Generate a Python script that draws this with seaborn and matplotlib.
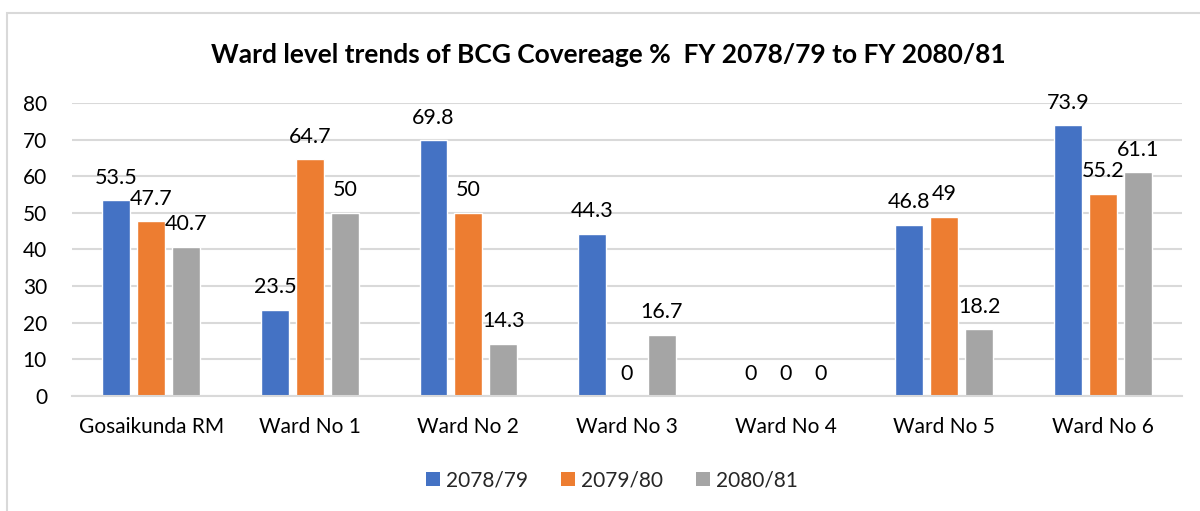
import matplotlib
matplotlib.use("Agg")
import matplotlib.pyplot as plt
import seaborn as sns
import pandas as pd
from matplotlib.patches import Rectangle, Patch

categories = ["Gosaikunda RM", "Ward No 1", "Ward No 2", "Ward No 3", "Ward No 4", "Ward No 5", "Ward No 6"]
fy_2078_79 = [53.5, 23.5, 69.8, 44.3, 0, 46.8, 73.9]
fy_2079_80 = [47.7, 64.7, 50, 0, 0, 49, 55.2]
fy_2080_81 = [40.7, 50, 14.3, 16.7, 0, 18.2, 61.1]
series_names = ["2078/79", "2079/80", "2080/81"]
colors = ["#4472C4", "#ED7D31", "#A5A5A5"]
yticks = [0, 10, 20, 30, 40, 50, 60, 70, 80]

rows = []
for name, vals in zip(series_names, [fy_2078_79, fy_2079_80, fy_2080_81]):
    for c, v in zip(categories, vals):
        rows.append({"Category": c, "Year": name, "Value": v})
df = pd.DataFrame(rows)

sns.set_theme(style="white")
plt.rcParams["font.family"] = ["Lato", "DejaVu Sans"]

fig = plt.figure(figsize=(12, 5.11), dpi=100)
ax = fig.add_axes([0.06, 0.225, 0.925, 0.5735])

sns.barplot(data=df, x="Category", y="Value", hue="Year", palette=colors,
            width=0.66, gap=0.2, ax=ax, legend=False, saturation=1)

ax.set_ylim(0, 80)
ax.set_yticks(yticks)
ax.set_xlim(-0.5, len(categories) - 0.5)
ax.grid(axis="y", color="#D9D9D9", linewidth=1.5)
ax.set_axisbelow(True)
for s in ["top", "right", "left"]:
    ax.spines[s].set_visible(False)
ax.spines["bottom"].set_color("#D9D9D9")
ax.spines["bottom"].set_linewidth(1.5)
ax.tick_params(axis="both", length=0, labelsize=15, colors="#000000")
ax.tick_params(axis="y", pad=18)
ax.tick_params(axis="x", pad=15)
ax.set_xlabel("")
ax.set_ylabel("")

for cont, vals in zip(ax.containers, [fy_2078_79, fy_2079_80, fy_2080_81]):
    ax.bar_label(cont, labels=[f"{v:g}" for v in vals], padding=9, fontsize=15.5, color="#000000")

fig.text(0.507, 0.893, "Ward level trends of BCG Covereage %  FY 2078/79 to FY 2080/81",
         ha="center", va="center", fontsize=19, fontweight="bold", color="#000000")

handles = [Patch(facecolor=c, edgecolor="none", label=n) for c, n in zip(colors, series_names)]
fig.legend(handles=handles, loc="center", bbox_to_anchor=(0.51, 0.06), ncol=3, frameon=False,
           fontsize=15, handlelength=0.65, handleheight=0.65, handletextpad=0.3, columnspacing=1.6)

fig.patches.append(Rectangle((7 / 1200, -0.1), 1.2, 1 - 13 / 511 + 0.1, transform=fig.transFigure,
                             fill=False, edgecolor="#D9D9D9", linewidth=1.5))

fig.savefig("out.png", dpi=100, facecolor="white")
